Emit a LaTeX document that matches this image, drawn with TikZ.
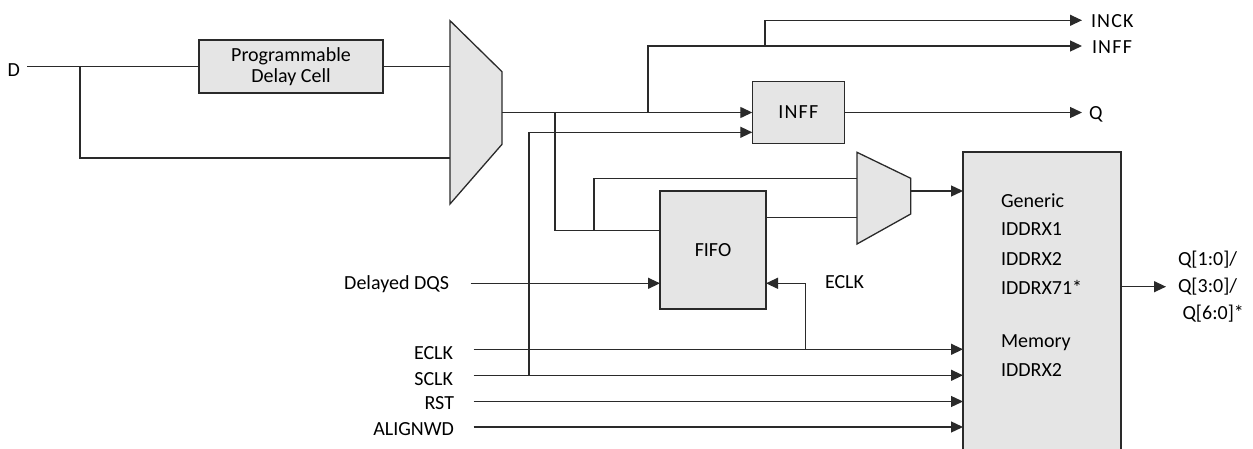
\documentclass[tikz,border=0pt]{standalone}
\usepackage{fontspec}
\setmainfont{Carlito}
\usetikzlibrary{arrows.meta,calc}
\definecolor{ln}{HTML}{2A2A2A}
\definecolor{bx}{HTML}{E5E5E5}
\tikzset{
  wire/.style={draw=ln, line width=1.3pt},
  arr/.style={wire, -{Triangle[length=12pt,width=11pt]}},
  blk/.style={draw=ln, fill=bx, line width=1.3pt, inner sep=0pt, outer sep=0pt, font=\fontsize{20}{21}\selectfont},
  lbl/.style={inner sep=0pt, outer sep=0pt, text=black, font=\fontsize{20}{24}\selectfont},
  sp/.style={lbl, font=\fontsize{20}{24}\selectfont\addfontfeatures{LetterSpace=6}}
}
\begin{document}
\begin{tikzpicture}[x=1pt,y=-1pt]
\useasboundingbox (0,0) rectangle (1253,449);
\clip (0,0) rectangle (1253,449);

% ---------- blocks ----------
\node[blk, minimum width=184pt, minimum height=53pt, align=center] (delay) at (291,66.5) {Programmable\\Delay Cell};
\node[blk, minimum width=92pt, minimum height=61.6pt] (inff) at (798.3,112.5) {\addfontfeatures{LetterSpace=6}INFF};
\node[blk, minimum width=106pt, minimum height=118pt] (fifo) at (713,250) {FIFO};
\node[blk, minimum width=158pt, minimum height=320pt, anchor=north west] (gen) at (963,152) {};

% mux 1
\coordinate (m1a) at (450,20.7);
\coordinate (m1b) at (502,71.7);
\coordinate (m1c) at (502,144.3);
\coordinate (m1d) at (450,204);
\filldraw[wire, fill=bx, line join=miter] (m1a)--(m1b)--(m1c)--(m1d)--cycle;
\coordinate (m1o) at (502,112.5);
\coordinate (m1i2) at (450,158);
% mux 2
\coordinate (m2a) at (857,152.3);
\coordinate (m2b) at (910.7,178.3);
\coordinate (m2c) at (910.7,214);
\coordinate (m2d) at (857,244);
\filldraw[wire, fill=bx, line join=miter] (m2a)--(m2b)--(m2c)--(m2d)--cycle;
\coordinate (m2o) at (910.7,191);
\coordinate (m2i1) at (857,178.3);
\coordinate (m2i2) at (857,217.7);

% ---------- labels ----------
\node[lbl, anchor=base east] (tD) at (20,77) {D};
\node[sp, anchor=base west] (tinck) at (1091,27.2) {INCK};
\node[sp, anchor=base west] (tinff) at (1092,53.8) {INFF};
\node[lbl, anchor=base west] (tq) at (1089,119.5) {Q};
\node[lbl, anchor=base east] (tdqs) at (449,289.5) {Delayed DQS};
\node[lbl, anchor=base east] (teclk) at (453,359.8) {ECLK};
\node[lbl, anchor=base east] (tsclk) at (453,385.8) {SCLK};
\node[lbl, anchor=base east] (trst) at (454,409.2) {RST};
\node[lbl, anchor=base east] (talign) at (454,435.5) {ALIGNWD};
\node[lbl, anchor=base west] (teclk2) at (825,288.2) {ECLK};
\node[lbl, anchor=base west] (g1) at (1001,207.5) {Generic};
\node[lbl, anchor=base west] (g2) at (1001,235.5) {IDDRX1};
\node[lbl, anchor=base west] (g3) at (1001,265.5) {IDDRX2};
\node[lbl, anchor=base west] (g4) at (1001,294) {IDDRX71*};
\node[lbl, anchor=base west] (g5) at (1001,347.5) {Memory};
\node[lbl, anchor=base west] (g6) at (1001,376) {IDDRX2};
\node[lbl, anchor=base west] (q1) at (1178,265.2) {Q[1:0]/};
\node[lbl, anchor=base west] (q2) at (1178,292.5) {Q[3:0]/};
\node[lbl, anchor=base west] (q3) at (1182.5,319.2) {Q[6:0]*};

% ---------- wire points ----------
\coordinate (din) at (27,66.5);
\coordinate (br1) at (80,66.5);
\coordinate (j1) at (648,112.5);
\coordinate (j2) at (765,46);
\coordinate (oinck) at (1082,20.3);
\coordinate (oinff) at (1082,46);
\coordinate (oq) at (1082,112.5);
\coordinate (j4) at (555,112.5);
\coordinate (j5) at (594,230.7);
\coordinate (j3) at (529,375.3);
\coordinate (sdqs) at (470.7,283.3);
\coordinate (seclk) at (473.7,349.3);
\coordinate (ssclk) at (473.7,375.3);
\coordinate (srst) at (473.7,401.5);
\coordinate (salign) at (473.7,427);
\coordinate (j6) at (805.7,349.3);
\coordinate (oout) at (1166,286.7);

% ---------- connectors ----------
\draw[wire] (din) -- (delay.west);
\draw[wire] (br1) |- (m1i2);
\draw[wire] (delay.east) -- (delay.east -| m1a);
\draw[arr] (m1o) -- (inff.west);
\draw[arr] (j1) |- (oinff);
\draw[arr] (j2) |- (oinck);
\draw[arr] (inff.east) -- (oq);
\draw[arr] (j3) |- (inff.west |- 0,132.3);
\draw[wire] (j4) |- (fifo.west |- 0,230.7);
\draw[wire] (j5) |- (m2i1);
\draw[wire] (fifo.east |- m2i2) -- (m2i2);
\draw[arr] (m2o) -- (m2o -| gen.west);
\draw[arr] (sdqs) -- (fifo.west |- sdqs);
\draw[arr] (j6) |- (fifo.east |- sdqs);
\draw[arr] (seclk) -- (seclk -| gen.west);
\draw[arr] (ssclk) -- (ssclk -| gen.west);
\draw[arr] (srst) -- (srst -| gen.west);
\draw[arr] (salign) -- (salign -| gen.west);
\draw[arr] (gen.east |- oout) -- (oout);
\end{tikzpicture}
\end{document}
